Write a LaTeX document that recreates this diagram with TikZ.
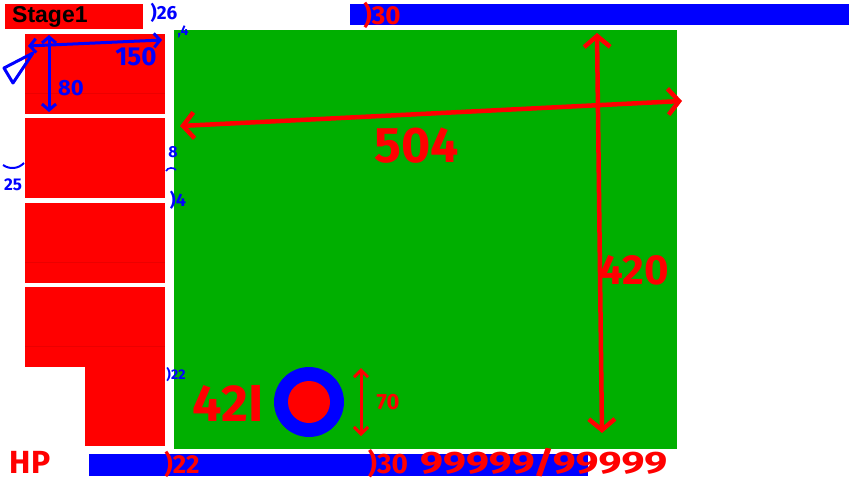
\documentclass[tikz,border=0pt]{standalone}
\usepackage{fontspec}
\setmainfont{Fira Sans}
\newfontfamily\headfont{Liberation Sans}
\usetikzlibrary{arrows.meta}
\definecolor{grass}{RGB}{0,175,0}
\definecolor{hpred}{RGB}{255,0,0}
\definecolor{pen}{RGB}{0,0,255}
\newcommand{\fs}[1]{\fontsize{#1}{#1}\selectfont}

\begin{document}
\begin{tikzpicture}[x=1pt,y=-1pt,
 blk/.style={fill=hpred},
 bar/.style={fill=pen},
 rpen/.style={draw=hpred,line width=4.5pt,line cap=round,{Straight Barb[length=11pt,width=26pt]}-{Straight Barb[length=11pt,width=26pt]}},
 bpen/.style={draw=pen,line width=3pt,line cap=round,{Straight Barb[length=6pt,width=14pt]}-{Straight Barb[length=6pt,width=14pt]}},
 rlab/.style={text=hpred,inner sep=0pt},
 blab/.style={text=pen,inner sep=0pt}]
 \useasboundingbox (0,0) rectangle (854,480);
 % title and bars
 \fill[blk] (5,4) rectangle (143,29);
 \node[anchor=west,inner sep=0pt,font=\headfont\bfseries\fs{23}] (stage) at (12,17) {Stage1};
 \fill[bar] (350,4) rectangle (849,25);
 \fill[bar] (89,454) rectangle (588,476);
 \fill[grass] (174,30) rectangle (677,449);
 % slots on the left
 \foreach \y in {34,118,203,287}
  \fill[blk] (25,\y) rectangle (165,\y+80);
 \fill[blk] (85,366) rectangle (165,446);
 \foreach \y in {93,262,346}
  \draw[hpred!92!black,line width=0.6pt] (25,\y) -- (165,\y);
 % player
 \node[circle,fill=pen,minimum size=70pt,inner sep=0pt] (ring) at (309,402) {};
 \node[circle,fill=hpred,minimum size=42pt,inner sep=0pt] (core) at (ring) {};
 % red notes
 \coordinate (wl) at (180,126); \coordinate (wr) at (682,101);
 \coordinate (ht) at (597,33); \coordinate (hb) at (602,433);
 \coordinate (pt) at (361,368); \coordinate (pb) at (361,436);
 \draw[rpen] (wl) -- (wr);
 \draw[rpen] (ht) -- (hb);
 \draw[rpen,line width=3pt,{Straight Barb[length=7pt,width=14pt]}-{Straight Barb[length=7pt,width=14pt]}] (pt) -- (pb);
 \node[rlab,font=\bfseries\fs{50}] (w) at (417,146) {504};
 \node[rlab,font=\bfseries\fs{42}] (h) at (634,270) {420};
 \node[rlab,font=\bfseries\fs{52}] (id) at (228,403) {42I};
 \node[rlab,font=\bfseries\fs{22}] (ps) at (388,402) {70};
 \node[rlab,font=\bfseries\fs{32}] (hp) at (30,462) {HP};
 \node[rlab,font=\bfseries\fs{26}] (tg) at (382,15) {)30};
 \node[rlab,font=\bfseries\fs{26}] (bg) at (182,464) {)22};
 \node[rlab,font=\bfseries\fs{28}] (bg2) at (388,464) {)30};
 \node[rlab,anchor=west,font=\bfseries\fs{31}] (hpv) at (420,463) {\scalebox{1.32}[1]{99999/99999}};
 % blue notes
 \coordinate (sl) at (28,46); \coordinate (sr) at (162,40);
 \coordinate (st) at (49,35); \coordinate (sb) at (49,112);
 \draw[bpen] (sl) -- (sr);
 \draw[bpen] (st) -- (sb);
 \draw[draw=pen,line width=3pt,line join=round] (4,68) -- (33,53) -- (13,83) -- cycle;
 \node[blab,font=\bfseries\fs{26}] (sw) at (136,57) {150};
 \node[blab,font=\bfseries\fs{22}] (sh) at (71,88) {80};
 \node[blab,font=\bfseries\fs{19}] (g1) at (164,13) {)26};
 \node[blab,font=\bfseries\fs{14}] (g2) at (183,32) {,4};
 \node[blab,font=\bfseries\fs{17}] (g3) at (13,185) {25};
 \draw[pen,line width=2pt] (3,165) to[bend right=40] (24,163);
 \node[blab,font=\bfseries\fs{16}] (g4) at (173,152) {8};
 \draw[pen,line width=1.6pt] (166,171) to[bend left=60] (176,170);
 \node[blab,font=\bfseries\fs{18}] (g5) at (178,200) {)4};
 \node[blab,font=\bfseries\fs{14}] (g6) at (176,375) {)22};
\end{tikzpicture}
\end{document}
